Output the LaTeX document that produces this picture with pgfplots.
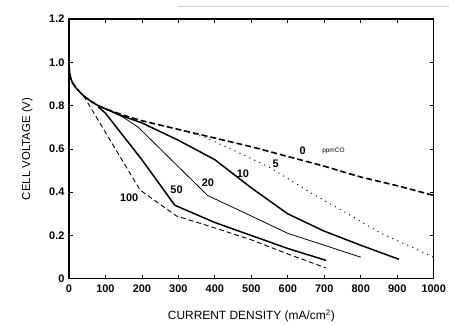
\documentclass[border=0pt]{standalone}
\usepackage{fontspec}
\setmainfont{Liberation Sans}
\usepackage{pgfplots}
\pgfplotsset{compat=1.18}
\begin{document}
\begin{tikzpicture}
\begin{axis}[
  scale only axis,
  width=365bp, height=260bp,
  xmin=0, xmax=1000, ymin=0, ymax=1.2,
  xtick={0,100,...,1000},
  ytick={0,0.2,0.4,0.6,0.8,1.0,1.2},
  yticklabels={0,0.2,0.4,0.6,0.8,1.0,1.2},
  xticklabels={0,100,200,300,400,500,600,700,800,900,1000},
  /pgf/number format/assume math mode=true,
  tick align=inside,
  major tick length=4bp,
  axis line style={line width=1.1pt},
  tick style={line width=0.8pt, black},
  ticklabel style={font=\fontsize{11}{13}\selectfont\bfseries},
  xticklabel style={yshift=-3bp},
  yticklabel style={xshift=-1bp},
  xlabel={CURRENT DENSITY (mA/cm\textsuperscript{2})},
  ylabel={CELL VOLTAGE (V)},
  xlabel style={font=\fontsize{12}{14}\selectfont, yshift=-10bp},
  ylabel style={font=\fontsize{11.5}{13}\selectfont, yshift=10bp},
  clip=false,
]
% 0 ppm CO
\addplot[black, line width=1.6pt, dash pattern=on 6pt off 3pt] coordinates {
(0,0.99)(2,0.95)(5,0.925)(10,0.905)(20,0.88)(40,0.845)(60,0.82)(80,0.80)(100,0.785)(150,0.755)(200,0.73)(300,0.69)(400,0.65)(500,0.61)(600,0.565)(700,0.52)(800,0.47)(900,0.43)(1000,0.385)};
% 5 ppm
\addplot[black, line width=1pt, dash pattern=on 1pt off 4.5pt] coordinates {
(300,0.69)(370,0.655)(450,0.595)(550,0.515)(660,0.40)(760,0.305)(850,0.215)(1000,0.10)};
% 10 ppm
\addplot[black, line width=1.5pt] coordinates {
(0,0.99)(2,0.95)(5,0.925)(10,0.905)(20,0.88)(40,0.845)(60,0.82)(80,0.80)(100,0.785)(150,0.75)(200,0.72)(300,0.64)(400,0.55)(500,0.42)(600,0.30)(700,0.22)(800,0.155)(905,0.09)};
% 20 ppm
\addplot[black, line width=0.8pt] coordinates {
(100,0.785)(150,0.745)(190,0.70)(380,0.385)(500,0.29)(600,0.21)(700,0.155)(800,0.10)};
% 50 ppm
\addplot[black, line width=1.5pt] coordinates {
(80,0.795)(100,0.765)(200,0.55)(290,0.34)(400,0.26)(500,0.20)(600,0.14)(705,0.085)};
% 100 ppm
\addplot[black, line width=0.9pt, dash pattern=on 5pt off 3pt] coordinates {
(40,0.845)(195,0.41)(295,0.29)(400,0.235)(500,0.18)(600,0.115)(705,0.05)};
\tikzset{lbl/.style={font=\fontsize{11}{13}\selectfont\bfseries}}
\node[lbl] at (axis cs:641,0.591) {0};
\node[font=\fontsize{6.5}{8}\selectfont] at (axis cs:725,0.593) {ppmCO};
\node[lbl] at (axis cs:567,0.529) {5};
\node[lbl] at (axis cs:477,0.487) {10};
\node[lbl] at (axis cs:381,0.444) {20};
\node[lbl] at (axis cs:295,0.413) {50};
\node[lbl] at (axis cs:165,0.376) {100};
\coordinate (bl) at (rel axis cs:0,0);
\coordinate (tr) at (rel axis cs:1,1);
\end{axis}
\pgfresetboundingbox
\path (bl) ++(-69bp,-46bp) coordinate (A);
\path (tr) ++(15bp,19bp) coordinate (B);
\draw[gray!40, line width=0.6pt] (tr) ++(-256bp,13bp) -- ++(271bp,0);
\path[use as bounding box] (A) rectangle (B);
\end{tikzpicture}
\end{document}
